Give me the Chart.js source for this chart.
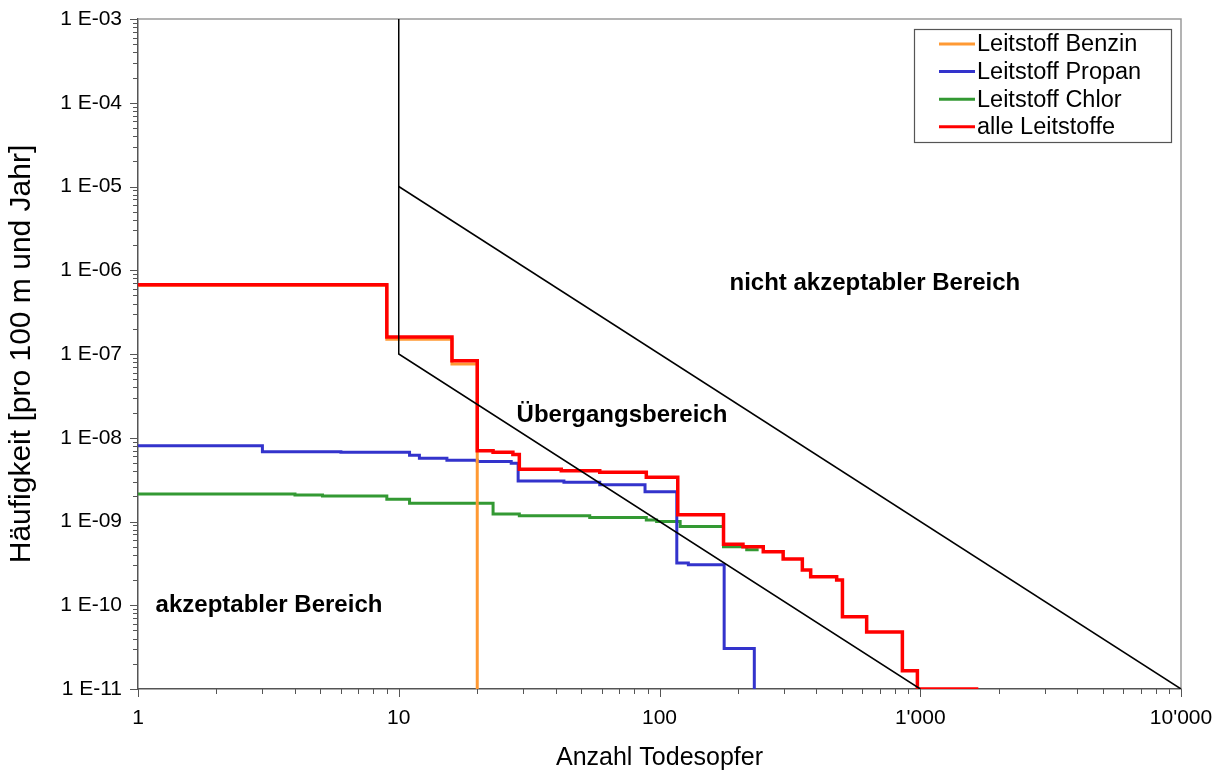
<!DOCTYPE html>
<html>
<head>
<meta charset="utf-8">
<script src="https://cdn.jsdelivr.net/npm/chart.js@4.4.1/dist/chart.umd.min.js"></script>
<style>
    html, body { margin: 0; padding: 0; background: #ffffff; }
    #wrap { width: 1225px; height: 774px; }
</style>
</head>
<body>
<div id="wrap"><canvas id="chart" width="1225" height="774"></canvas></div>
<script>
// axis ticks
const xTickValues = [1, 10, 100, 1000, 10000];
const xTickLabels = ['1', '10', '100', "1'000", "10'000"];
const yTickValues = [1e-11, 1e-10, 1e-9, 1e-8, 1e-7, 1e-6, 1e-5, 1e-4, 1e-3];
const yTickLabels = ['1 E-11', '1 E-10', '1 E-09', '1 E-08', '1 E-07', '1 E-06', '1 E-05', '1 E-04', '1 E-03'];

// F-N curves (step: value holds until next x)
const benzinX = [1, 9, 16, 20];
const benzinY = [6.6e-7, 1.5e-7, 7.6e-8, 1e-11];

const propanX = [1, 3, 6, 11, 12, 15.3, 20, 27, 28.7, 43, 59, 88, 116.5, 129, 177, 231];
const propanY = [8.0e-9, 6.8e-9, 6.7e-9, 6.2e-9, 5.7e-9, 5.4e-9, 5.2e-9, 4.95e-9, 3.05e-9, 2.95e-9, 2.75e-9, 2.27e-9, 3.2e-10, 3.05e-10, 3.05e-11, 1e-11];

const chlorX = [1, 4, 5.1, 9, 11, 23, 29, 54, 89, 97.5, 120, 176, 216, 240];
const chlorY = [2.13e-9, 2.07e-9, 2.01e-9, 1.84e-9, 1.65e-9, 1.23e-9, 1.17e-9, 1.12e-9, 1.04e-9, 1.0e-9, 8.7e-10, 5.0e-10, 4.6e-10, 4.6e-10];

const alleX = [1, 9, 16, 20, 23, 27.4, 29, 42, 59, 89, 117.5, 176, 209, 250, 298, 353, 380, 478, 503, 623, 854, 975, 1670];
const alleY = [6.7e-7, 1.6e-7, 8.3e-8, 7.0e-9, 6.7e-9, 6.3e-9, 4.2e-9, 4.05e-9, 3.87e-9, 3.37e-9, 1.2e-9, 5.35e-10, 5.0e-10, 4.36e-10, 3.56e-10, 2.63e-10, 2.19e-10, 2.0e-10, 7.3e-11, 4.8e-11, 1.65e-11, 1e-11, 1e-11];

// boundary lines of the acceptability diagram
const lowerLimitX = [10, 10, 1000];
const lowerLimitY = [1e-3, 1e-7, 1e-11];
const upperLimitX = [10, 10000];
const upperLimitY = [1e-5, 1e-11];

const seriesNames = ['Leitstoff Benzin', 'Leitstoff Propan', 'Leitstoff Chlor', 'alle Leitstoffe'];
const seriesColors = ['#FF9933', '#3333CC', '#339933', '#FF0000'];

// region labels
const regionTexts = ['nicht akzeptabler Bereich', '\u00dcbergangsbereich', 'akzeptabler Bereich'];
const regionAt = [[670, 7.05e-7], [71.8, 1.87e-8], [3.18, 1.0e-10]];

const FONT = "'Liberation Sans', Arial, sans-serif";

const pts = (xs, ys) => xs.map((x, i) => ({ x: x, y: ys[i] }));

function stepSet(label, xs, ys, color, width, order) {
    return {
        label: label,
        data: pts(xs, ys),
        borderColor: color,
        backgroundColor: color,
        borderWidth: width,
        pointRadius: 0,
        stepped: true,
        fill: false,
        order: order
    };
}

const limitStyle = { borderColor: '#000000', borderWidth: 1.5, pointRadius: 0, fill: false, order: 0 };

const decor = {
    id: 'decor',
    beforeDatasetsDraw(chart) {
        const { ctx, chartArea: a } = chart;
        ctx.save();
        ctx.strokeStyle = '#9a9a9a';
        ctx.lineWidth = 1.5;
        ctx.beginPath();
        ctx.moveTo(a.left, a.top);
        ctx.lineTo(a.right, a.top);
        ctx.lineTo(a.right, a.bottom);
        ctx.stroke();
        ctx.restore();
    },
    afterDraw(chart) {
        const { ctx, chartArea: a } = chart;
        const xs = chart.scales.x, ys = chart.scales.y;
        ctx.save();
        ctx.strokeStyle = '#555555';
        ctx.lineWidth = 1;
        ctx.beginPath();
        // minor + major ticks, y axis
        for (let e = -11; e <= -3; e++) {
            for (let k = 1; k <= 9; k++) {
                if (e === -3 && k > 1) break;
                const py = Math.round(ys.getPixelForValue(k * Math.pow(10, e))) + 0.5;
                const len = k === 1 ? 8 : 5;
                ctx.moveTo(a.left - len, py);
                ctx.lineTo(a.left, py);
            }
        }
        // x axis
        for (let e = 0; e <= 4; e++) {
            for (let k = 1; k <= 9; k++) {
                if (e === 4 && k > 1) break;
                const px = Math.round(xs.getPixelForValue(k * Math.pow(10, e))) + 0.5;
                const len = k === 1 ? 8 : 5;
                ctx.moveTo(px, a.bottom);
                ctx.lineTo(px, a.bottom + len);
            }
        }
        ctx.stroke();

        // region labels
        ctx.fillStyle = '#000000';
        ctx.font = 'bold 24px ' + FONT;
        ctx.textAlign = 'center';
        ctx.textBaseline = 'middle';
        regionTexts.forEach((t, i) => {
            ctx.fillText(t, xs.getPixelForValue(regionAt[i][0]), ys.getPixelForValue(regionAt[i][1]));
        });

        // legend box
        const lx = 914, ly = 29, lw = 257, lh = 113;
        ctx.fillStyle = '#ffffff';
        ctx.fillRect(lx, ly, lw, lh);
        ctx.strokeStyle = '#555555';
        ctx.lineWidth = 1.2;
        ctx.strokeRect(lx + 0.5, ly + 0.5, lw, lh);
        ctx.font = '23.5px ' + FONT;
        ctx.textAlign = 'left';
        seriesNames.forEach((name, i) => {
            const ry = 44 + i * 27.6;
            ctx.strokeStyle = seriesColors[i];
            ctx.lineWidth = 3;
            ctx.beginPath();
            ctx.moveTo(939, ry);
            ctx.lineTo(975, ry);
            ctx.stroke();
            ctx.fillStyle = '#000000';
            ctx.fillText(name, 977, ry + 1);
        });
        ctx.restore();
    }
};

new Chart(document.getElementById('chart').getContext('2d'), {
    type: 'line',
    data: {
        datasets: [
            Object.assign({ label: 'limit1', data: pts(lowerLimitX, lowerLimitY) }, limitStyle),
            Object.assign({ label: 'limit2', data: pts(upperLimitX, upperLimitY) }, limitStyle),
            stepSet(seriesNames[3], alleX, alleY, seriesColors[3], 3.5, 1),
            stepSet(seriesNames[0], benzinX, benzinY, seriesColors[0], 3, 2),
            stepSet(seriesNames[1], propanX, propanY, seriesColors[1], 3, 3),
            stepSet(seriesNames[2], chlorX, chlorY, seriesColors[2], 3, 4)
        ]
    },
    options: {
        responsive: false,
        animation: false,
        layout: { padding: { left: 0, top: 19, right: 44, bottom: 0 } },
        plugins: {
            legend: { display: false },
            tooltip: { enabled: false }
        },
        scales: {
            x: {
                type: 'logarithmic',
                min: 1,
                max: 10000,
                afterBuildTicks: s => { s.ticks = xTickValues.map(v => ({ value: v, major: true })); },
                afterFit: s => { s.height = 85; s.paddingLeft = 0; s.paddingRight = 0; },
                grid: { display: false, drawTicks: false },
                border: { display: true, color: '#555555', width: 1.5 },
                ticks: {
                    autoSkip: false,
                    maxRotation: 0,
                    padding: 17,
                    color: '#000000',
                    font: { size: 21, family: FONT },
                    callback: (v, i) => xTickLabels[i]
                },
                title: {
                    display: true,
                    text: 'Anzahl Todesopfer',
                    color: '#000000',
                    font: { size: 25, family: FONT },
                    padding: { top: 0, bottom: 1 }
                }
            },
            y: {
                type: 'logarithmic',
                min: 1e-11,
                max: 1e-3,
                afterBuildTicks: s => { s.ticks = yTickValues.map(v => ({ value: v, major: true })); },
                afterFit: s => { s.width = 138; s.paddingTop = 0; s.paddingBottom = 0; },
                grid: { display: false, drawTicks: false },
                border: { display: true, color: '#555555', width: 1.5 },
                ticks: {
                    autoSkip: false,
                    padding: 16,
                    color: '#000000',
                    font: { size: 21, family: FONT },
                    callback: (v, i) => yTickLabels[i]
                },
                title: {
                    display: true,
                    text: 'H\u00e4ufigkeit [pro 100 m und Jahr]',
                    color: '#000000',
                    font: { size: 30, family: FONT },
                    padding: { top: 4, bottom: 0 }
                }
            }
        }
    },
    plugins: [decor]
});
</script>
</body>
</html>
